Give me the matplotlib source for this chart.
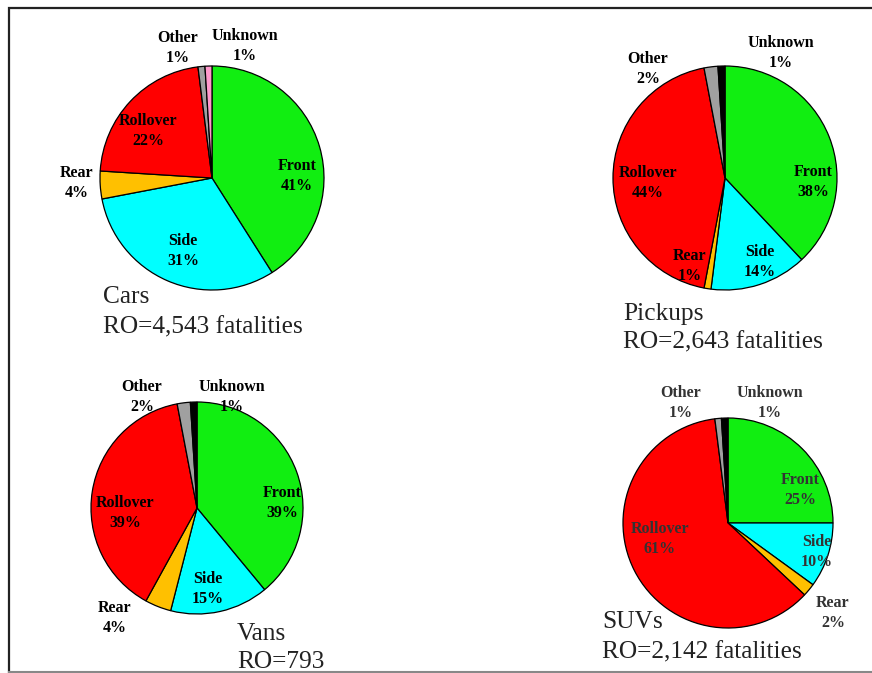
import matplotlib.pyplot as plt

# Fatality share by crash type, per vehicle class
categories = ["Front", "Side", "Rear", "Rollover", "Other", "Unknown"]
cars = [41, 31, 4, 22, 1, 1]
pickups = [38, 14, 1, 44, 2, 1]
vans = [39, 15, 4, 39, 2, 1]
suvs = [25, 10, 2, 61, 1, 1]
titles = ["Cars", "Pickups", "Vans", "SUVs"]
ro_lines = ["RO=4,543 fatalities", "RO=2,643 fatalities", "RO=793", "RO=2,142 fatalities"]

W, H = 872, 673

# slice colours (cars use a pink "unknown" wedge)
colors = ["#11ee11", "#00ffff", "#ffc000", "#ff0000", "#a0a0a0", "#000000"]
cars_colors = colors[:5] + ["#ff99cc"]

# layout in pixels measured from the top-left corner
centers = [(212, 178), (725, 178), (197, 508), (728, 523)]
radii = [112, 112, 106, 105]
label_pos = [
    [(297, 176), (183, 251), (77, 183), (148, 131), (178, 48), (245, 46)],
    [(813, 182), (760, 262), (690, 266), (648, 183), (648, 69), (781, 53)],
    [(282, 503), (208, 589), (115, 618), (125, 513), (142, 397), (232, 397)],
    [(800, 490), (817, 552), (833, 613), (660, 539), (681, 403), (770, 403)],
]
caption_pos = [(103, 303, 333), (623, 320, 348), (237, 640, 668), (602, 628, 658)]
label_color = ["black", "black", "black", "#333333"]

fig = plt.figure(figsize=(W / 100, H / 100), dpi=100)
ax = fig.add_axes([0, 0, 1, 1])
ax.set_xlim(0, W)
ax.set_ylim(0, H)
ax.set_aspect("equal")
ax.axis("off")

serif = "Liberation Serif"

for i, vals in enumerate([cars, pickups, vans, suvs]):
    cx, cy = centers[i]
    ax.pie(vals, center=(cx, H - cy), radius=radii[i], startangle=90,
           counterclock=False, colors=cars_colors if i == 0 else colors,
           wedgeprops=dict(edgecolor="black", linewidth=0.9),
           frame=True)
    for name, v, (lx, ly) in zip(categories, vals, label_pos[i]):
        ax.text(lx, H - ly, f"{name}\n{v}%", ha="center", va="center",
                fontsize=11.5, fontweight="bold", family=serif,
                color=label_color[i], linespacing=1.3)
    x, y1, y2 = caption_pos[i]
    ax.text(x, H - y1, titles[i], fontsize=18.3, family=serif,
            va="baseline", ha="left", color="#222222")
    ax.text(x, H - y2, ro_lines[i], fontsize=18.3, family=serif,
            va="baseline", ha="left", color="#222222")

# restore the full-figure view after pie() adjusts limits
ax.set_xlim(0, W)
ax.set_ylim(0, H)
ax.axis("off")

# page frame
ax.plot([W, 9, 9], [H - 8, H - 8, 0], color="#222222", lw=1.6,
        solid_joinstyle="miter")
ax.plot([9, W], [H - 672, H - 672], color="#888888", lw=1.5)

fig.savefig("out.png", dpi=100)
